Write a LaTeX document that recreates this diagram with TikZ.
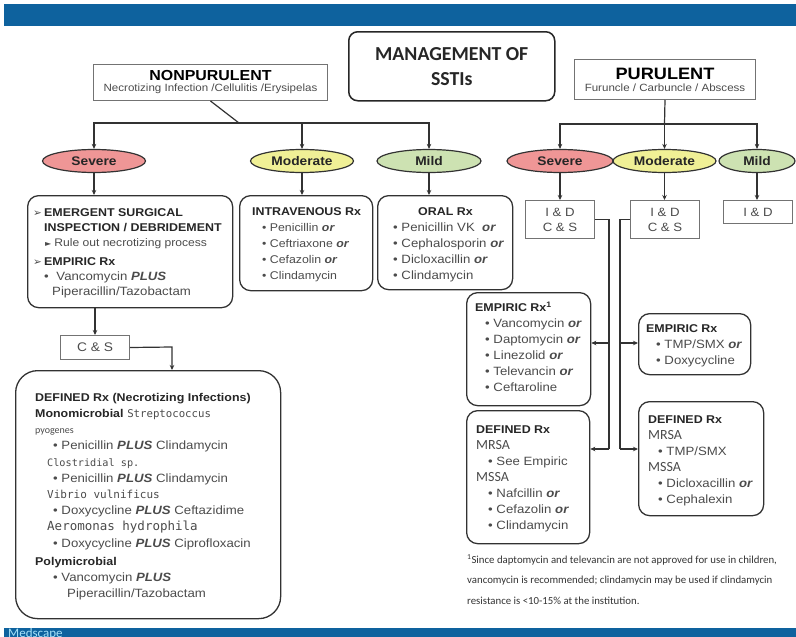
\documentclass[tikz,border=0pt]{standalone}
\usepackage{fontspec}
\setmainfont{Liberation Sans}[FakeStretch=1.1]
\newfontfamily\calfont{Carlito}
\newfontfamily\symfont{DejaVu Sans}
\newfontfamily\speciesfont{DejaVu Sans Mono}
\usetikzlibrary{arrows.meta,shapes.geometric}

\definecolor{barblue}{RGB}{14,98,158}
\definecolor{sevred}{RGB}{239,150,150}
\definecolor{modyellow}{RGB}{240,240,150}
\definecolor{mildgreen}{RGB}{205,226,178}
\definecolor{linegray}{RGB}{50,50,50}
\definecolor{bodygray}{RGB}{75,75,75}

\newcommand{\orw}{\textbf{\textit{or}}}
\newcommand{\plusw}{\textbf{\textit{PLUS}}}
\newcommand{\bl}{\textbullet\ }
\newcommand{\pointer}{\makebox[11pt][l]{\symfont\fontsize{10.5}{10}\selectfont ➢}}
\newcommand{\hd}[1]{\textcolor{black!85}{\fontsize{11.3}{16}\selectfont\textbf{#1}}}
\newcommand{\species}[2]{{\speciesfont\fontsize{#1}{16}\selectfont #2}}
\newcommand{\strain}[1]{{\calfont\fontsize{14}{16}\selectfont #1}}

\begin{document}
\begin{tikzpicture}[x=1pt,y=-1pt,
  oval/.style={ellipse,draw=linegray,line width=1.2pt,inner sep=0pt,
    minimum height=23pt,font=\bfseries\fontsize{12.5}{13}\selectfont,text=black!85},
  plainbox/.style={draw=black!55,line width=1pt,inner sep=0pt,anchor=north west,align=center},
  roundbox/.style={draw=linegray,line width=1.3pt,rounded corners=11pt,inner sep=0pt,anchor=north west},
  boxtext/.style={anchor=north west,inner sep=0pt,align=left,text=bodygray,
    font=\fontsize{12}{16}\selectfont},
  arrow/.style={-{Stealth[length=5pt,width=4.5pt]},line width=1.2pt,draw=linegray},
  link/.style={line width=1.2pt,draw=linegray}]

  % banners
  \useasboundingbox (0,0) rectangle (796,637);
  \fill[barblue] (4,4) rectangle (796,26);
  \fill[barblue] (4,628) rectangle (796,637);
  \node[anchor=north west,inner sep=0pt,text=cyan!35!white,
    font=\calfont\fontsize{13}{13}\selectfont] (brand) at (8,628.5) {Medscape};

  % heads
  \node[roundbox,rounded corners=9pt,line width=1.5pt,draw=black!85,minimum width=206pt,
    minimum height=69pt,align=center,font=\calfont\bfseries\fontsize{19.8}{25}\selectfont,
    text=black!85] (title) at (348,31) {MANAGEMENT OF\\SSTIs};
  \node[plainbox,minimum width=234pt,minimum height=36pt] (nonpur) at (93,64)
    {{\bfseries\fontsize{14.5}{15}\selectfont NONPURULENT}\\[-1pt]
     {\fontsize{10.5}{11}\selectfont\color{bodygray}Necrotizing Infection /Cellulitis /Erysipelas}};
  \node[plainbox,minimum width=181pt,minimum height=40pt] (pur) at (574,59)
    {{\bfseries\fontsize{16.5}{17}\selectfont PURULENT}\\[0pt]
     {\fontsize{10.5}{11}\selectfont\color{bodygray}Furuncle / Carbuncle / Abscess}};

  % severity
  \node[oval,fill=sevred,minimum width=103pt] (nsev) at (94,161) {Severe};
  \node[oval,fill=modyellow,minimum width=103pt] (nmod) at (302,161) {Moderate};
  \node[oval,fill=mildgreen,minimum width=104pt] (nmild) at (429,161) {Mild};
  \node[oval,fill=sevred,minimum width=106pt] (psev) at (560,161) {Severe};
  \node[oval,fill=modyellow,minimum width=103pt] (pmod) at (664.5,161) {Moderate};
  \node[oval,fill=mildgreen,minimum width=76pt] (pmild) at (757,161) {Mild};

  \coordinate (nsplit) at (239,123);
  \coordinate (psplit) at (664.5,124);
  \draw[link] (nonpur.south) -- (nsplit);
  \draw[arrow] (nsplit) -| (nsev.north);
  \draw[arrow] (nsplit) -| (nmod.north);
  \draw[arrow] (nsplit) -| (nmild.north);
  \draw[link] (pur.south) -- (psplit);
  \draw[arrow] (psplit) -| (psev.north);
  \draw[arrow] (psplit) -- (pmod.north);
  \draw[arrow] (psplit) -| (pmild.north);

  % nonpurulent boxes
  \node[roundbox,minimum width=205pt,minimum height=112pt] (emerg) at (27,195) {};
  \node[roundbox,minimum width=133pt,minimum height=95pt] (ivrx) at (239,195) {};
  \node[roundbox,minimum width=135pt,minimum height=94pt] (oralrx) at (377,195) {};
  \draw[arrow] (nsev.south) -- (nsev.south |- emerg.north);
  \draw[arrow] (nmod.south) -- (nmod.south |- ivrx.north);
  \draw[arrow] (nmild.south) -- (nmild.south |- oralrx.north);

  \node[boxtext,font=\fontsize{12}{15}\selectfont] (emergtxt) at (33,208) {%
    \pointer\hd{EMERGENT SURGICAL}\\
    \hspace*{11pt}\hd{INSPECTION / DEBRIDEMENT}\\
    \hspace*{12pt}{\fontsize{11}{15}\selectfont{\symfont\fontsize{8}{8}\selectfont ►}\hspace{3pt}Rule out necrotizing process}\\[4pt]
    \pointer\hd{EMPIRIC Rx}\\
    \hspace*{11pt}\bl\hspace{4pt}Vancomycin \plusw\\
    \hspace*{19pt}Piperacillin/Tazobactam};
  \node[boxtext,font=\fontsize{11.2}{16}\selectfont] (ivtxt) at (252,207) {%
    \hd{INTRAVENOUS Rx}\\
    \hspace*{10pt}\bl Penicillin \orw\\
    \hspace*{10pt}\bl Ceftriaxone \orw\\
    \hspace*{10pt}\bl Cefazolin \orw\\
    \hspace*{10pt}\bl Clindamycin};
  \node[boxtext] (oraltxt) at (393,207) {%
    \hspace*{25pt}\hd{ORAL Rx}\\
    \bl Penicillin VK \ \orw\\
    \bl Cephalosporin \orw\\
    \bl Dicloxacillin \orw\\
    \bl Clindamycin};

  \node[plainbox,minimum width=69pt,minimum height=24pt,font=\fontsize{12.5}{13}\selectfont,
    text=bodygray] (cs) at (60,335) {C \& S};
  \draw[arrow] (cs.north |- emerg.south) -- (cs.north);
  \node[roundbox,rounded corners=22pt,minimum width=265pt,minimum height=248pt] (defn) at (15,370) {};
  \coordinate (csbend) at (172,347);
  \draw[arrow] (cs.east) -- (csbend) -- (csbend |- defn.north);
  \node[boxtext,font=\fontsize{12}{16.2}\selectfont] (defntxt) at (35,393) {%
    \hd{DEFINED Rx (Necrotizing Infections)}\\
    \hd{Monomicrobial} \species{10.7}{Streptococcus}\\
    {\calfont\fontsize{10}{16}\selectfont pyogenes}\\
    \hspace*{18pt}\bl Penicillin \plusw\ Clindamycin\\
    \hspace*{12pt}\species{10.2}{Clostridial sp.}\\
    \hspace*{18pt}\bl Penicillin \plusw\ Clindamycin\\
    \hspace*{12pt}\species{11}{Vibrio vulnificus}\\
    \hspace*{18pt}\bl Doxycycline \plusw\ Ceftazidime\\
    \hspace*{12pt}\species{12.5}{Aeromonas hydrophila}\\
    \hspace*{18pt}\bl Doxycycline \plusw\ Ciprofloxacin\\[2pt]
    \hd{Polymicrobial}\\
    \hspace*{18pt}\bl Vancomycin \plusw\\
    \hspace*{32pt}Piperacillin/Tazobactam};

  % purulent boxes
  \node[plainbox,minimum width=69pt,minimum height=38pt,font=\fontsize{12}{15}\selectfont,
    text=bodygray] (idsev) at (525,200) {I \& D\\C \& S};
  \node[plainbox,minimum width=69pt,minimum height=38pt,font=\fontsize{12}{15}\selectfont,
    text=bodygray] (idmod) at (630,200) {I \& D\\C \& S};
  \node[plainbox,minimum width=69pt,minimum height=23pt,font=\fontsize{12}{15}\selectfont,
    text=bodygray] (idmild) at (723,200) {I \& D};
  \draw[arrow] (psev.south) -- (psev.south |- idsev.north);
  \draw[arrow] (pmod.south) -- (pmod.south |- idmod.north);
  \draw[arrow] (pmild.south) -- (pmild.south |- idmild.north);

  \node[roundbox,minimum width=124pt,minimum height=113pt] (empl) at (466,292) {};
  \node[roundbox,minimum width=112pt,minimum height=61pt] (empr) at (638,313) {};
  \node[roundbox,minimum width=123pt,minimum height=133pt] (defl) at (466,410) {};
  \node[roundbox,minimum width=125pt,minimum height=114pt] (defr) at (638,401) {};

  \coordinate (sevtrunk) at (609,449);
  \coordinate (sevfork) at (609,343);
  \draw[link] (idsev.east) -| (sevtrunk);
  \draw[arrow] (sevfork) -- (sevfork -| empl.east);
  \draw[arrow] (sevtrunk) -- (sevtrunk -| defl.east);
  \coordinate (modtrunk) at (620,449);
  \coordinate (modfork) at (620,343);
  \draw[link] (idmod.west) -| (modtrunk);
  \draw[arrow] (modfork) -- (modfork -| empr.west);
  \draw[arrow] (modtrunk) -- (modtrunk -| defr.west);

  \node[boxtext] (empltxt) at (475,302) {%
    \hd{EMPIRIC Rx\textsuperscript{1}}\\
    \hspace*{10pt}\bl Vancomycin \orw\\
    \hspace*{10pt}\bl Daptomycin \orw\\
    \hspace*{10pt}\bl Linezolid \orw\\
    \hspace*{10pt}\bl Televancin \orw\\
    \hspace*{10pt}\bl Ceftaroline};
  \node[boxtext] (emprtxt) at (646,324) {%
    \hd{EMPIRIC Rx}\\
    \hspace*{10pt}\bl TMP/SMX \orw\\
    \hspace*{10pt}\bl Doxycycline};
  \node[boxtext] (defltxt) at (476,426) {%
    \hd{DEFINED Rx}\\
    \strain{MRSA}\\
    \hspace*{12pt}\bl See Empiric\\
    \strain{MSSA}\\
    \hspace*{12pt}\bl Nafcillin \orw\\
    \hspace*{12pt}\bl Cefazolin \orw\\
    \hspace*{12pt}\bl Clindamycin};
  \node[boxtext] (defrtxt) at (648,416) {%
    \hd{DEFINED Rx}\\
    \strain{MRSA}\\
    \hspace*{10pt}\bl TMP/SMX\\
    \strain{MSSA}\\
    \hspace*{10pt}\bl Dicloxacillin \orw\\
    \hspace*{10pt}\bl Cephalexin};

  % footnote
  \node[anchor=north west,inner sep=0pt,align=left,text=black!80,
    font=\calfont\fontsize{10.8}{20.5}\selectfont] (note) at (467,554)
    {\textsuperscript{1}Since daptomycin and televancin are not approved for use in children,\\
     vancomycin is recommended; clindamycin may be used if clindamycin\\
     resistance is <10-15\% at the institution.};
\end{tikzpicture}
\end{document}
